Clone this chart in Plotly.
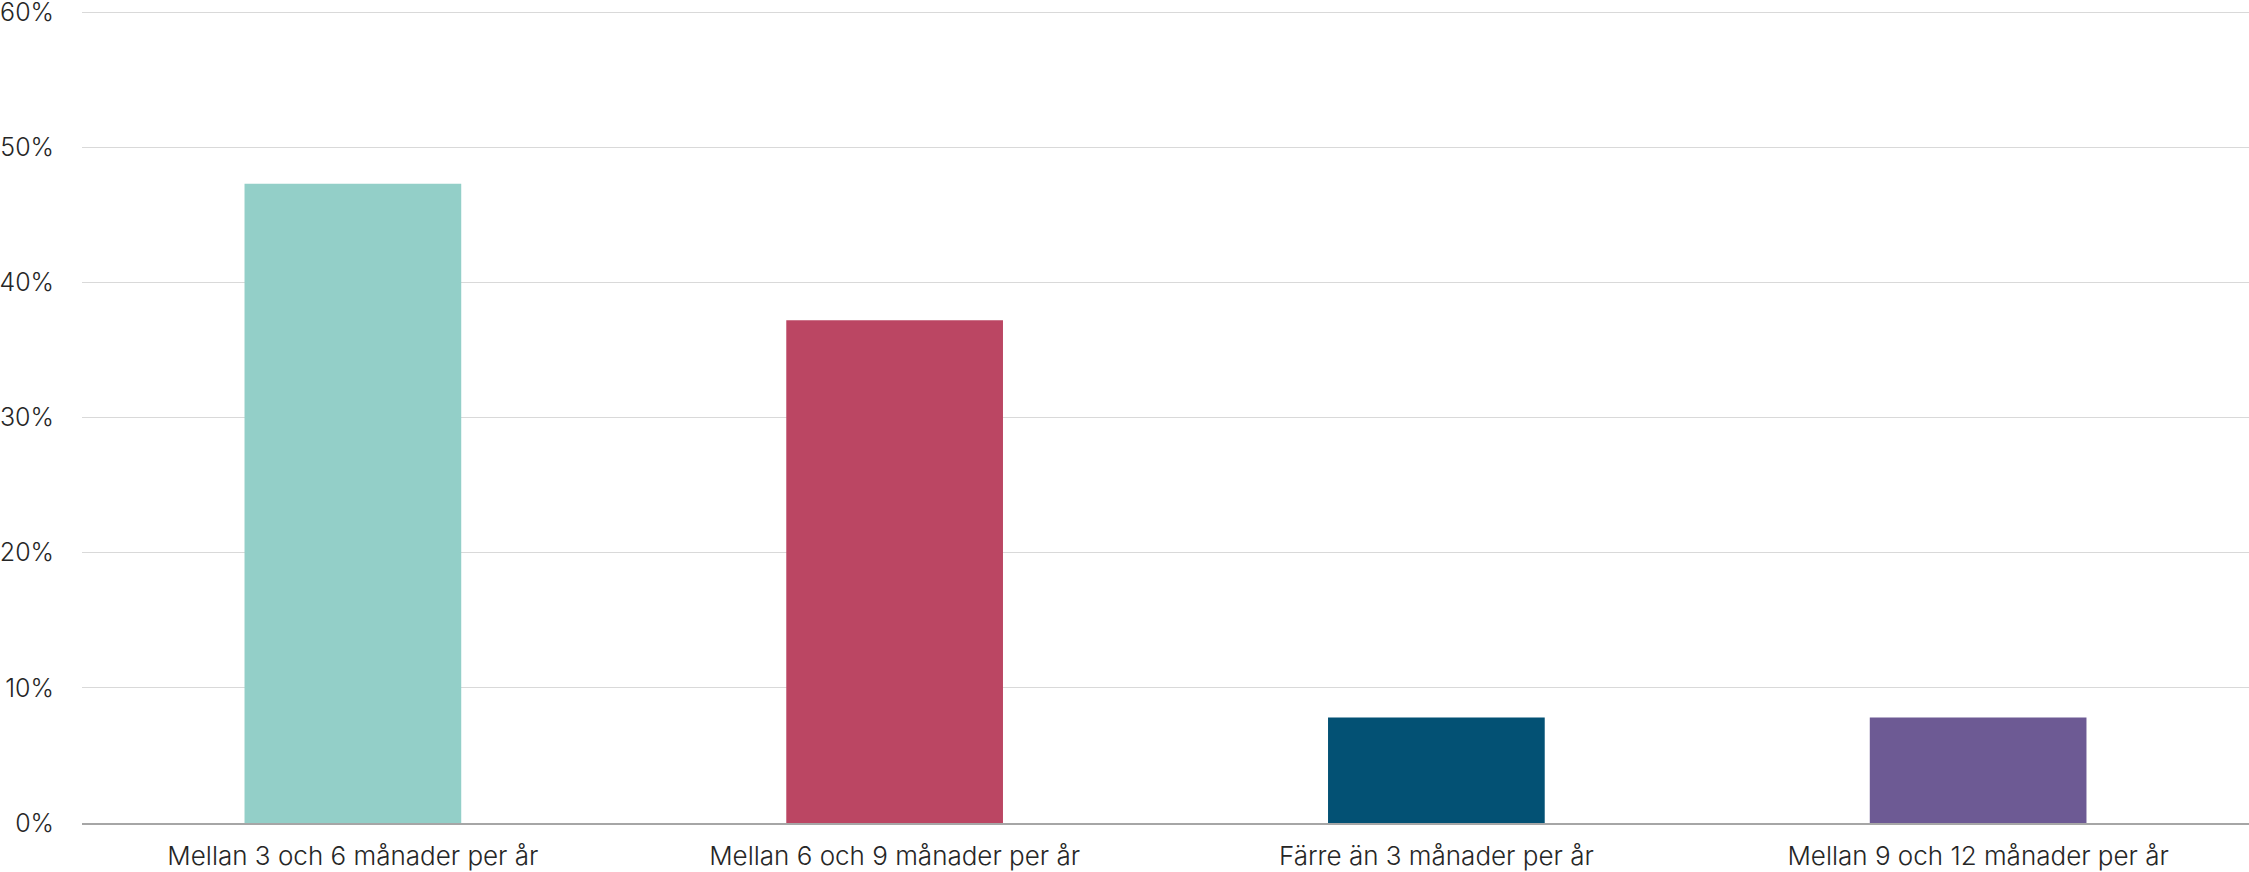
import plotly.graph_objects as go

categories = ["Mellan 3 och 6 månader per år", "Mellan 6 och 9 månader per år",
              "Färre än 3 månader per år", "Mellan 9 och 12 månader per år"]
values = [0.473, 0.372, 0.078, 0.078]
colors = ["#93CFC8", "#BB4663", "#035174", "#6D5A94"]
y_ticks = [0, 0.1, 0.2, 0.3, 0.4, 0.5, 0.6]
y_tick_labels = ["0%", "10%", "20%", "30%", "40%", "50%", "60%"]

fig = go.Figure(go.Bar(x=categories, y=values, marker=dict(color=colors, line=dict(width=0)),
                       hoverinfo="skip"))

fig.update_layout(
    width=2249, height=872,
    margin=dict(l=82, r=0, t=10, b=49),
    paper_bgcolor="white", plot_bgcolor="white",
    bargap=0.6,
    font=dict(family="Inter", size=26, color="#262626", weight=300),
    showlegend=False,
    xaxis=dict(showgrid=False, showline=True, linecolor="#A6A6A6", linewidth=2,
               ticks="outside", ticklen=9, tickcolor="rgba(0,0,0,0)",
               tickfont=dict(size=26), automargin=False),
    yaxis=dict(range=[0, 0.6015], tickvals=y_ticks, ticktext=y_tick_labels,
               showgrid=True, gridcolor="#D9D9D9", gridwidth=1,
               zeroline=False, showline=False,
               ticks="outside", ticklen=22, tickcolor="rgba(0,0,0,0)",
               tickfont=dict(size=25), automargin=False,
               ticklabeloverflow="allow"),
)

fig.write_html("out.html", config={"displayModeBar": False},
               post_script="document.body.style.margin='0';")
